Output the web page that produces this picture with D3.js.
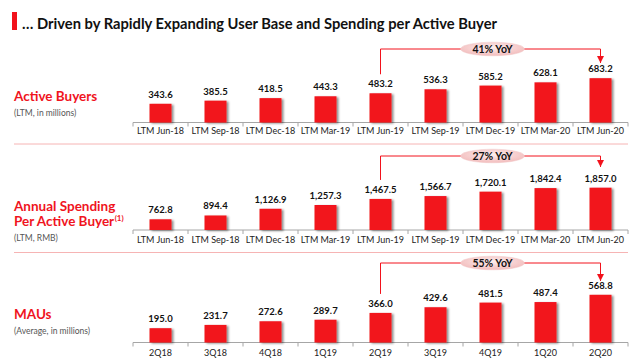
<!DOCTYPE html>
<html><head><meta charset="utf-8">
<script src="https://cdn.jsdelivr.net/npm/d3@7"></script>
<style>body{margin:0;background:#fff}svg{display:block}text{font-family:Lato,"Open Sans",sans-serif}</style>
</head><body><svg id="c" width="640" height="360"></svg>
<script>
const titleText = "\u2026 Driven by Rapidly Expanding User Base and Spending per Active Buyer";
const ltmCategories = ["LTM Jun-18","LTM Sep-18","LTM Dec-18","LTM Mar-19","LTM Jun-19","LTM Sep-19","LTM Dec-19","LTM Mar-20","LTM Jun-20"];
const quarterCategories = ["2Q18","3Q18","4Q18","1Q19","2Q19","3Q19","4Q19","1Q20","2Q20"];
const activeBuyers = [343.6,385.5,418.5,443.3,483.2,536.3,585.2,628.1,683.2];
const annualSpending = [762.8,894.4,1126.9,1257.3,1467.5,1566.7,1720.1,1842.4,1857.0];
const maus = [195.0,231.7,272.6,289.7,366.0,429.6,481.5,487.4,568.8];
const yoyLabels = ["41% YoY","27% YoY","55% YoY"];

const panels = [
  {title:["Active Buyers"], sub:"(LTM, in millions)", cats:ltmCategories, vals:activeBuyers, fmt:d3.format(",.1f"), yoy:yoyLabels[0],
   base:122.5, dom:[95.5, 683.2], hmax:44.3, titleY:[101], subY:116, catY:134, annTop:49, annArrow:63},
  {title:["Annual Spending","Per Active Buyer"], sup:"(1)", sub:"(LTM, RMB)", cats:ltmCategories, vals:annualSpending, fmt:d3.format(",.1f"), yoy:yoyLabels[1],
   base:230, dom:[392, 1857.0], hmax:42.3, titleY:[210.5,226], subY:241, catY:243, annTop:156, annArrow:167},
  {title:["MAUs"], sub:"(Average, in millions)", cats:quarterCategories, vals:maus, fmt:d3.format(",.1f"), yoy:yoyLabels[2],
   base:342.5, dom:[35, 568.8], hmax:47.7, titleY:[319], subY:334, catY:356, annTop:263, annArrow:281}
];

const svg = d3.select("#c");
const red = "#f2121c";
const defs = svg.append("defs");
const f = defs.append("filter").attr("id","sh").attr("x","-20%").attr("y","-20%").attr("width","160%").attr("height","160%");
f.append("feGaussianBlur").attr("in","SourceAlpha").attr("stdDeviation",1.2);
f.append("feOffset").attr("dx",2).attr("dy",1).attr("result","ob");
f.append("feComponentTransfer").append("feFuncA").attr("type","linear").attr("slope",0.45);
const fm = f.append("feMerge"); fm.append("feMergeNode"); fm.append("feMergeNode").attr("in","SourceGraphic");
const g = defs.append("radialGradient").attr("id","pill").attr("cx","50%").attr("cy","40%").attr("r","60%");
g.append("stop").attr("offset","0%").attr("stop-color","#fdeeee");
g.append("stop").attr("offset","100%").attr("stop-color","#f2bcbc");
defs.append("marker").attr("id","arr").attr("viewBox","0 0 10 10").attr("refX",10).attr("refY",5)
  .attr("markerUnits","userSpaceOnUse").attr("markerWidth",7).attr("markerHeight",7).attr("orient","auto")
  .append("path").attr("d","M0,0 L10,5 L0,10 Z").attr("fill",red);

// title
svg.append("rect").attr("x",12).attr("y",12).attr("width",5).attr("height",18).attr("fill",red);
svg.append("text").attr("x",22).attr("y",29).attr("font-size",16).attr("font-weight",700).attr("fill","#111")
  .attr("textLength",475).attr("lengthAdjust","spacingAndGlyphs").text(titleText);

// separators
[144,252.5].forEach(y=>svg.append("line").attr("x1",14).attr("x2",628).attr("y1",y).attr("y2",y).attr("stroke","#f6b4b4").attr("stroke-width",1));

const x = d3.scaleBand().domain(d3.range(9)).range([133,628]).paddingInner(0).paddingOuter(0);
const bw = 22;

panels.forEach(p=>{
  const y = d3.scaleLinear().domain(p.dom).range([p.base, p.base - p.hmax]);
  const G = svg.append("g");
  // panel titles
  p.title.forEach((t,i)=>{
    const tt = G.append("text").attr("x",14).attr("y",p.titleY[i]).attr("font-size",13.5).attr("font-weight",700).attr("fill","#f0141e").text(t);
    if(p.sup && i===p.title.length-1){
      const w = tt.node().getComputedTextLength();
      G.append("text").attr("x",14+w+0.5).attr("y",p.titleY[i]-5).attr("font-size",8).attr("font-weight",700).attr("fill","#f0141e").text(p.sup);
    }
  });
  G.append("text").attr("x",14).attr("y",p.subY).attr("font-size",8.5).attr("fill","#555").text(p.sub);
  // axis
  const ax = G.append("g").attr("transform",`translate(0,${p.base})`);
  ax.append("line").attr("x1",133).attr("x2",628).attr("stroke","#a6a6a6");
  d3.range(10).forEach(i=>{
    const xx = i<9 ? x(i) : x(8)+x.bandwidth();
    ax.append("line").attr("x1",xx).attr("x2",xx).attr("y1",0).attr("y2",4).attr("stroke","#a6a6a6");
  });
  // bars
  G.selectAll("rect.b").data(p.vals).join("rect").attr("class","b")
    .attr("x",(d,i)=>x(i)+x.bandwidth()/2-bw/2).attr("width",bw)
    .attr("y",d=>y(d)).attr("height",d=>p.base-y(d)).attr("fill",red).attr("filter","url(#sh)");
  G.selectAll("text.v").data(p.vals).join("text").attr("class","v")
    .attr("x",(d,i)=>x(i)+x.bandwidth()/2).attr("y",d=>y(d)-6)
    .attr("text-anchor","middle").attr("font-size",9.5).attr("font-weight",700).attr("fill","#111").text(d=>p.fmt(d));
  G.selectAll("text.c").data(p.cats).join("text").attr("class","c")
    .attr("x",(d,i)=>x(i)+x.bandwidth()/2).attr("y",p.catY)
    .attr("text-anchor","middle").attr("font-size",9).attr("fill","#222").text(d=>d);
  // YoY annotation
  const x0 = x(4)+x.bandwidth()/2, x1 = x(8)+x.bandwidth()/2;
  const yStart = y(p.vals[4]) - 19;
  G.append("path").attr("d",`M${x0},${yStart} V${p.annTop} H${x1} V${p.annArrow}`)
    .attr("fill","none").attr("stroke",red).attr("stroke-width",1).attr("marker-end","url(#arr)");
  const cx = (x0+x1)/2 + 2;
  G.append("ellipse").attr("cx",cx).attr("cy",p.annTop).attr("rx",32).attr("ry",6.8).attr("fill","url(#pill)").attr("stroke","#f0c8c8").attr("stroke-width",0.5);
  G.append("text").attr("x",cx).attr("y",p.annTop+3.6).attr("text-anchor","middle").attr("font-size",10.5).attr("font-weight",700).attr("fill","#111").text(p.yoy);
});
</script></body></html>
